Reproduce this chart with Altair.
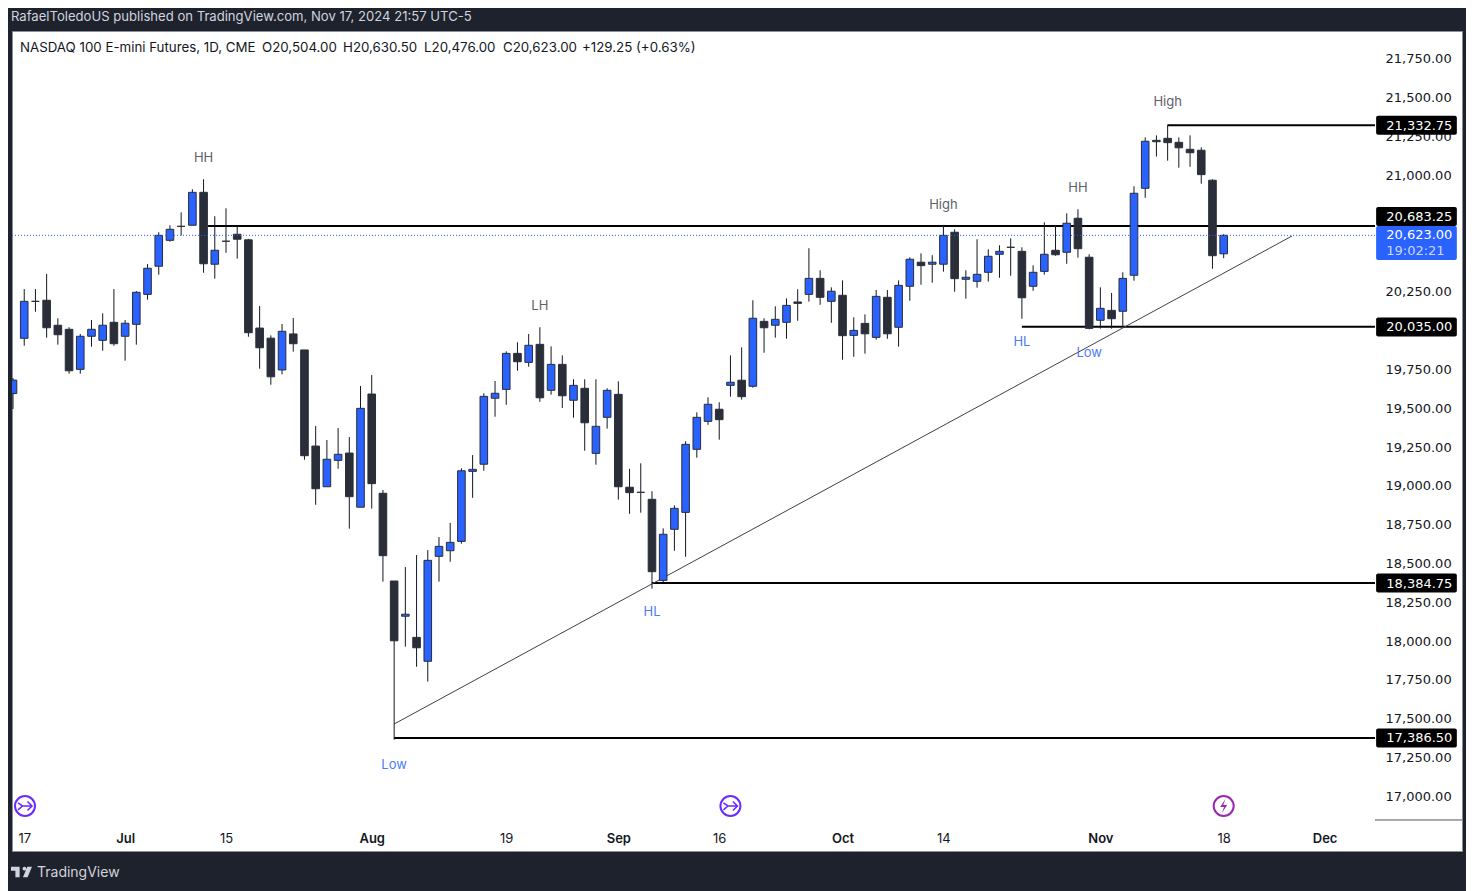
import json
import altair as alt
import pandas as pd

# ---- candles (June 14 - Nov 15 2024, one per trading day) ----
opens = [19604,19960,20198,20205,20044,20018,19760,19973,19947,20063,19973,20050,20243,20424,20591,20681,20688,20900,20437,20585,20630,20594,
         20026,19961,19756,19988,19885,19266,19004,19174,19221,18872,19601,18962,18397,18170,18034,17880,18556,18592,18652,19103,19149,19574,19631,
         19863,19805,19921,19625,19792,19561,19638,19219,19451,19599,19001,18968,18923,18401,18730,18839,19245,19425,19503,19657,19690,19651,20069,
         20044,20063,20194,20243,20346,20198,20237,19979,20056,19966,20224,20031,20295,20450,20437,20437,20643,20340,20327,20385,20501,20546,20520,
         20295,20391,20527,20514,20733,20482,20076,20140,20134,20366,20926,21235,21248,21222,21177,21171,20978,20504]
highs = [19704,20277,20277,20374,20089,20031,19988,20078,20121,20277,20078,20264,20438,20643,20688,20771,20920,20984,20746,20797,20688,20600,
         20168,19979,20052,20091,19885,19395,19305,19382,19324,19653,19724,18983,18397,18487,18564,18596,18680,18771,19123,19208,19606,19685,19876,
         19934,19988,20031,19908,19850,19696,19696,19696,19638,19683,19119,19155,18975,18736,18884,19297,19483,19580,19548,19850,19902,20205,20089,
         20166,20217,20276,20540,20398,20288,20333,20095,20114,20271,20271,20333,20482,20507,20495,20690,20662,20398,20598,20533,20559,20604,20546,
         20430,20707,20690,20765,20791,20501,20288,20252,20385,20939,21254,21267,21335,21254,21267,21190,20984,20630.5]
lows = [19505,19912,20131,19964,19919,19732,19732,19906,19880,19912,19816,19919,20209,20370,20582,20623,20688,20382,20344,20511,20473,19970,
        19764,19661,19728,19874,19178,18888,19004,19120,18734,18872,18863,18393,17375,17974,17845,17749,18393,18521,18637,18933,19107,19455,19532,
        19751,19777,19551,19597,19511,19449,19236,19146,19378,18921,18830,18837,18348,18390,18592,18553,19191,19403,19307,19584,19565,19642,19867,
        19964,19957,20073,20196,20176,20060,19822,19841,19861,19951,19957,19906,20202,20305,20318,20389,20260,20215,20286,20325,20350,20363,20086,
        20266,20370,20492,20440,20479,20018,20022,20022,20034,20331,20865,21130,21104,21059,21065,20956,20408,20476]
closes = [19691,20198,20198,20028,19983,19751,19973,20018,20044,19925,20057,20256,20411,20623,20662,20681,20900,20440,20527,20585,20598,19996,
          19899,19712,20005,19925,19204,18991,19181,19213,18940,19509,19024,18560,18012,18183,17967,18530,18620,18646,19107,19116,19586,19606,19863,
          19809,19915,19577,19792,19590,19657,19416,19393,19625,19004,18966,18968,18457,18698,18865,19277,19451,19535,19436,19677,19584,20089,20028,
          20082,20172,20185,20346,20224,20263,19977,20011,19989,20230,19989,20301,20469,20428,20450,20623,20344,20353,20372,20488,20520,20546,20221,
          20385,20501,20498,20701,20537,20024,20153,20086,20346,20894,21229,21226,21220,21187,21155,21014,20492,20623]

# ---- axes ----
price_ticks = [17000,17250,17500,17750,18000,18250,18500,18750,19000,19250,19500,19750,20000,20250,20500,20750,21000,21250,21500,21750]
time_positions = [1,10,19,32,44,54,63,74,83,97,108,117]
time_labels = ["17","Jul","15","Aug","19","Sep","16","Oct","14","Nov","18","Dec"]
month_positions = [10,32,54,74,97,117]

# ---- drawn levels ----
level_prices = [21332.75,20683.25,20035.00,18384.75,17386.50]
level_starts = [103,17.4,90,57,34]
tag_texts = ["21,332.75","20,683.25","20,035.00","18,384.75","17,386.50"]
tag_centers = [21332,20744,20033,18384,17386]
last_price = 20623
trend_x = [34,114.1]
trend_y = [17476,20619]

note_texts = ["HH","LH","High","HH","High","Low","HL","HL","Low"]
note_x = [17,47,83,95,103,34,57,90,96]
note_y = [21127,20174,20825,20934,21488,17218,18204,19943,19872]
note_kind = ["grey","grey","grey","grey","grey","blue","blue","blue","blue"]

icon_x = [1.07,64,108]

BG = "#1e222d"; BLUE = "#2962ff"; DARK = "#2a2e39"; WICK = "#131722"
FONT = "Inter"
PRICE_FONT = "DejaVu Sans"

xs = alt.Scale(domain=[-0.09,129.26], nice=False, zero=False, padding=0)
ys = alt.Scale(domain=[16658.2,21939], nice=False, zero=False, padding=0)
mapping = json.dumps({str(p): l for p, l in zip(time_positions, time_labels)})
x_axis = alt.Axis(orient="bottom", offset=-31, values=time_positions, labelExpr=f"{mapping}[datum.value]",
                  domain=False, ticks=False, grid=False, title=None, labelColor=WICK, labelFontSize=13, labelFont=FONT,
                  labelPadding=12, labelOverlap=False, labelFlush=False, labelBound=False,
                  labelFontWeight={"condition": {"test": f"indexof({month_positions}, datum.value) >= 0", "value": 600}, "value": 400})
y_axis = alt.Axis(orient="right", offset=-87, values=price_ticks, format=",.2f", domain=False, ticks=False, grid=False,
                  title=None, labelColor=WICK, labelFontSize=13, labelFont=PRICE_FONT, labelPadding=10, labelAlign="left",
                  labelOffset=-1.5, labelOverlap=False, labelFlush=False, labelBound=False)

def X(f): return alt.X(f, type="quantitative", scale=xs, axis=x_axis)
def Y(f): return alt.Y(f, type="quantitative", scale=ys, axis=y_axis)

candles = pd.DataFrame({"i": range(len(opens)), "o": opens, "h": highs, "l": lows, "c": closes})
candles["kind"] = ["up" if c > o else "down" for o, c in zip(opens, closes)]
levels = pd.DataFrame({"s": level_starts, "e": [121.5] * 5, "p": level_prices})
tags = pd.DataFrame({"a": [121.6] * 5, "b": [128.8] * 5, "p": tag_centers, "t": tag_texts, "tx": [122.5] * 5})
trend = pd.DataFrame({"x": trend_x, "y": trend_y})
notes = pd.DataFrame({"x": note_x, "y": note_y, "t": note_texts, "k": note_kind})
last = pd.DataFrame({"a": [-0.09], "b": [121.5], "p": [last_price]})
last_tag = pd.DataFrame({"a": [121.6], "b": [128.8], "p": [20574]})
last_txt = pd.DataFrame({"x": [122.5, 122.5], "y": [20628, 20529], "t": ["20,623.00", "19:02:21"], "k": ["a", "b"]})
axis_tail = pd.DataFrame({"a": [121.5], "b": [129.26], "p": [16858]})
icons = pd.DataFrame({"x": icon_x, "y": [16948] * 3, "k": ["a", "a", "b"]})

layers = []
layers.append(alt.Chart(levels).mark_rule(color="#000000", strokeWidth=2).encode(x=X("s"), x2="e", y=Y("p")))
layers.append(alt.Chart(trend).mark_line(color="#3f3f4a", strokeWidth=1).encode(x=X("x"), y=Y("y")))
layers.append(alt.Chart(candles).mark_rule(color=WICK, strokeWidth=1, clip=True).encode(x=X("i"), y=Y("h"), y2="l"))
layers.append(alt.Chart(candles).mark_bar(size=7.6, orient="vertical", stroke=DARK, strokeWidth=1, clip=True).encode(
    x=X("i"), y=Y("o"), y2="c",
    color=alt.Color("kind:N", scale=alt.Scale(domain=["up", "down"], range=[BLUE, DARK]), legend=None)))
layers.append(alt.Chart(last).mark_rule(color=BLUE, strokeWidth=1, strokeDash=[1, 2]).encode(x=X("a"), x2="b", y=Y("p")))
layers.append(alt.Chart(axis_tail).mark_rule(color="#50535e", strokeWidth=1).encode(x=X("a"), x2="b", y=Y("p")))
layers.append(alt.Chart(tags).mark_bar(size=19, orient="horizontal", color="#000000", cornerRadius=2).encode(x=X("a"), x2="b", y=Y("p")))
layers.append(alt.Chart(tags).mark_text(align="left", baseline="middle", color="#ffffff", font=PRICE_FONT, fontSize=13, dy=0.5).encode(
    x=X("tx"), y=Y("p"), text="t:N"))
layers.append(alt.Chart(last_tag).mark_bar(size=34, orient="horizontal", color=BLUE, cornerRadius=2).encode(x=X("a"), x2="b", y=Y("p")))
layers.append(alt.Chart(last_txt).mark_text(align="left", baseline="middle", font=PRICE_FONT, fontSize=13, dy=0.7).encode(
    x=X("x"), y=Y("y"), text="t:N",
    color=alt.Color("k:N", scale=alt.Scale(domain=["a", "b"], range=["#ffffff", "#c9d6ff"]), legend=None)))
layers.append(alt.Chart(notes).mark_text(align="center", baseline="middle", font=FONT, fontSize=13, dy=1).encode(
    x=X("x"), y=Y("y"), text="t:N",
    color=alt.Color("k:N", scale=alt.Scale(domain=["grey", "blue"], range=["#5d606b", "#4d7cf5"]), legend=None)))

# purple event icons
ARROW = "M-1,-0.45 L-0.35,0 H1 M0.35,-0.65 L1,0 L0.35,0.65 M-1,0.55 L-0.35,0"
BOLT = "M0.25,-1 L-0.5,0.15 H0.05 L-0.25,1 L0.5,-0.15 H-0.05 Z"
layers.append(alt.Chart(icons).mark_point(shape="circle", filled=False, size=400, strokeWidth=2, opacity=1).encode(
    x=X("x"), y=Y("y"),
    color=alt.Color("k:N", scale=alt.Scale(domain=["a", "b"], range=["#6a2bff", "#9c27b0"]), legend=None)))
layers.append(alt.Chart(icons[icons.k == "a"]).mark_point(shape=ARROW, filled=False, size=196, strokeWidth=1.6, color="#6a2bff", opacity=1).encode(
    x=X("x"), y=Y("y")))
layers.append(alt.Chart(icons[icons.k == "b"]).mark_point(shape=BOLT, filled=True, size=196, color="#9c27b0", opacity=1).encode(
    x=X("x"), y=Y("y")))

# legend line over the chart, publisher line and footer
header = pd.DataFrame({
    "x": [8, 250, 331, 412, 491, 570],
    "t": ["NASDAQ 100 E-mini Futures, 1D, CME", "O20,504.00", "H20,630.50", "L20,476.00", "C20,623.00", "+129.25 (+0.63%)"]})
layers.append(alt.Chart(header).mark_text(align="left", baseline="middle", font=FONT, fontSize=13.3, color=WICK).encode(
    x=alt.X("x:Q", scale=None), y=alt.value(17), text="t:N"))
layers.append(alt.Chart(pd.DataFrame({"t": ["RafaelToledoUS published on TradingView.com, Nov 17, 2024 21:57 UTC-5"]})).mark_text(
    align="left", baseline="middle", font=FONT, fontSize=13.1, color="#d1d4dc").encode(x=alt.value(-1), y=alt.value(-14), text="t:N"))
layers.append(alt.Chart(pd.DataFrame({"t": ["TradingView"]})).mark_text(
    align="left", baseline="middle", font=FONT, fontSize=14, color="#d1d4dc").encode(x=alt.value(25), y=alt.value(842), text="t:N"))
LOGO = ("M-1,-0.5 H-0.18 V0.5 H-0.58 V-0.12 H-1 Z "
        "M0.1,-0.32 A0.18,0.18 0 1,1 0.46,-0.32 A0.18,0.18 0 1,1 0.1,-0.32 Z "
        "M0.55,-0.5 H1 L0.58,0.5 H0.14 Z")
layers.append(alt.Chart(pd.DataFrame({"t": ["logo"]})).mark_point(shape=LOGO, filled=True, size=441, color="#d1d4dc", opacity=1).encode(
    x=alt.value(9.5), y=alt.value(841)))

chart = alt.layer(*layers).resolve_scale(color="independent").properties(
    width=1450, height=820, background=BG,
    padding={"left": 4, "top": 23, "right": 4, "bottom": 40},
    autosize=alt.AutoSizeParams(type="none"),
).configure_view(fill="#ffffff", stroke="#8a8e99", strokeWidth=1)

chart.save("out.html", embed_options={"renderer": "svg", "actions": False})
